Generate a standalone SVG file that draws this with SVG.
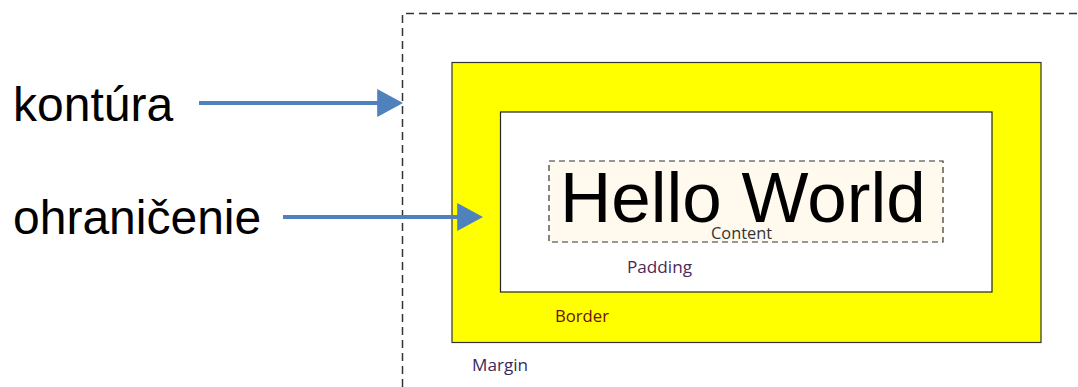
<svg xmlns="http://www.w3.org/2000/svg" width="1078" height="387" viewBox="0 0 1078 387">
<style>
.big{font-family:"Liberation Sans",Arial,sans-serif;font-size:48px;fill:#000}
.lbl{font-family:"Open Sans","Noto Sans",sans-serif;font-size:16px}
.arrow{stroke:#4f81bd;stroke-width:4;fill:none}
</style>
<defs>
<marker id="ah" markerWidth="6.5" markerHeight="7" refX="0.2" refY="3.5" orient="auto" markerUnits="strokeWidth">
<path d="M0,0 L6.5,3.5 L0,7 z" fill="#4f81bd"/>
</marker>
</defs>
<rect width="1078" height="387" fill="#fff"/>
<g id="margin">
<path d="M402.5,387 V13.5 H1078" fill="none" stroke="#333" stroke-width="1.5" stroke-dasharray="8,5"/>
<text class="lbl" x="472" y="371" fill="#3a2a5a" textLength="56" lengthAdjust="spacingAndGlyphs">Margin</text>
</g>
<g id="border">
<rect x="452" y="62.5" width="589" height="280" fill="#ffff00" stroke="#333" stroke-width="1.2"/>
<text class="lbl" x="555" y="322" fill="#6a1010" textLength="54" lengthAdjust="spacingAndGlyphs">Border</text>
</g>
<g id="padding">
<rect x="500.5" y="112" width="491.5" height="180" fill="#fff" stroke="#222" stroke-width="1.2"/>
<text class="lbl" x="627" y="273" fill="#4a2a5a" textLength="65" lengthAdjust="spacingAndGlyphs">Padding</text>
</g>
<g id="content">
<rect x="549" y="161" width="394" height="81" fill="#fff9ee" stroke="#333" stroke-width="1.2" stroke-dasharray="6,4"/>
<text x="560" y="222" font-family="Liberation Sans,Arial,sans-serif" font-size="71" fill="#000">Hello World</text>
<text class="lbl" x="711" y="239" fill="#333" textLength="61" lengthAdjust="spacingAndGlyphs">Content</text>
</g>
<g id="label-kontura"><text class="big" x="13" y="121">kontúra</text></g>
<g id="label-ohranicenie"><text class="big" x="13" y="234">ohraničenie</text></g>
<g id="connectors">
<line class="arrow" x1="199" y1="103" x2="378" y2="103" marker-end="url(#ah)"/>
<line class="arrow" x1="283" y1="217" x2="458" y2="217" marker-end="url(#ah)"/>
</g>
</svg>
